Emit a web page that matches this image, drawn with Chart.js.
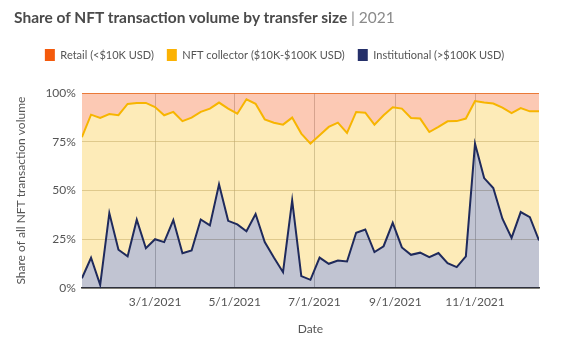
<!DOCTYPE html>
<html>
<head>
<meta charset="utf-8">
<script src="https://cdn.jsdelivr.net/npm/chart.js@4.4.1/dist/chart.umd.min.js"></script>
<style>
  html, body { margin: 0; padding: 0; background: #fff; }
  #wrap { position: relative; width: 564px; height: 346px; }
  #title { position: absolute; left: 14px; top: 8px; font-family: Lato, sans-serif; font-size: 15.5px; font-weight: bold; color: #4a4a4a; white-space: nowrap; }
  #title span { font-weight: normal; color: #8a8a8a; }
  canvas { position: absolute; left: 0; top: 0; }
</style>
</head>
<body>
<div id="wrap">
  <canvas id="chart" width="564" height="346"></canvas>
  <div id="title">Share of NFT transaction volume by transfer size <span>| 2021</span></div>
</div>
<script>
// weekly buckets (Monday start)
const weeks = [
  '2021-01-04','2021-01-11','2021-01-18','2021-01-25','2021-02-01','2021-02-08','2021-02-15','2021-02-22',
  '2021-03-01','2021-03-08','2021-03-15','2021-03-22','2021-03-29','2021-04-05','2021-04-12','2021-04-19',
  '2021-04-26','2021-05-03','2021-05-10','2021-05-17','2021-05-24','2021-05-31','2021-06-07','2021-06-14',
  '2021-06-21','2021-06-28','2021-07-05','2021-07-12','2021-07-19','2021-07-26','2021-08-02','2021-08-09',
  '2021-08-16','2021-08-23','2021-08-30','2021-09-06','2021-09-13','2021-09-20','2021-09-27','2021-10-04',
  '2021-10-11','2021-10-18','2021-10-25','2021-11-01','2021-11-08','2021-11-15','2021-11-22','2021-11-29',
  '2021-12-06','2021-12-13','2021-12-20'
];

// share of volume, % (institutional at bottom, retail on top)
const institutional = [
  5.1, 15.6, 1.7, 38.5, 19.7, 16.3, 35.1, 20.5, 25.1, 23.6, 34.9, 17.9, 19.3, 35.2, 32.2, 53.2, 34.5,
  32.7, 29.2, 38.0, 23.6, 15.7, 8.2, 45.0, 6.2, 4.3, 15.7, 12.5, 14.2, 13.7, 28.4, 30.1, 18.5, 21.5,
  33.5, 20.9, 17.1, 18.2, 15.9, 18.0, 12.8, 10.8, 16.3, 74.1, 56.4, 51.3, 35.6, 25.8, 39.0, 36.4, 24.5
];
const collector = [
  72.3, 73.3, 85.5, 50.7, 68.9, 78.1, 59.8, 74.4, 67.7, 65.0, 55.4, 67.7, 68.1, 55.1, 59.8, 41.9, 57.5,
  56.7, 67.6, 56.5, 62.9, 69.1, 75.6, 42.4, 73.0, 69.8, 62.6, 70.1, 70.6, 65.8, 61.9, 59.8, 65.3, 67.1,
  59.2, 71.1, 70.1, 68.7, 64.1, 64.6, 72.7, 74.8, 70.6, 21.8, 38.7, 43.3, 56.9, 63.9, 53.3, 54.2, 66.1
];
const retail = [
  22.6, 11.1, 12.8, 10.8, 11.4, 5.6, 5.1, 5.1, 7.2, 11.4, 9.7, 14.4, 12.6, 9.7, 8.0, 4.9, 8.0,
  10.6, 3.2, 5.5, 13.5, 15.2, 16.2, 12.6, 20.8, 25.9, 21.7, 17.4, 15.2, 20.5, 9.7, 10.1, 16.2, 11.4,
  7.3, 8.0, 12.8, 13.1, 20.0, 17.4, 14.5, 14.4, 13.1, 4.1, 4.9, 5.4, 7.5, 10.3, 7.7, 9.4, 9.4
];

const tickDates = ['2021-03-01','2021-05-01','2021-07-01','2021-09-01','2021-11-01'];
const yTicks = [0, 25, 50, 75, 100];

const DAY = 86400000;
const toDay = s => Date.parse(s + 'T00:00:00Z') / DAY;
const fmtDate = d => {
  const dt = new Date(d * DAY);
  return (dt.getUTCMonth() + 1) + '/' + dt.getUTCDate() + '/' + dt.getUTCFullYear();
};
const pts = arr => arr.map((v, i) => ({ x: toDay(weeks[i]), y: v }));

const font = "Lato, sans-serif";

// push the plot down a bit below the legend
const legendGap = {
  id: 'legendGap',
  beforeInit(chart) {
    const fit = chart.legend.fit;
    chart.legend.fit = function () {
      fit.bind(chart.legend)();
      this.height += 22;
    };
  }
};

new Chart(document.getElementById('chart'), {
  type: 'line',
  data: {
    datasets: [
      {
        label: 'Institutional (>$100K USD)',
        data: pts(institutional),
        borderColor: '#1f2a5c',
        backgroundColor: 'rgba(31, 42, 92, 0.28)',
        legendColor: '#25306a',
        borderWidth: 2,
        fill: 'origin'
      },
      {
        label: 'NFT collector ($10K-$100K USD)',
        data: pts(collector),
        borderColor: '#f7b500',
        backgroundColor: 'rgba(249, 190, 20, 0.3)',
        legendColor: '#fbb203',
        borderWidth: 2,
        fill: '-1'
      },
      {
        label: 'Retail (<$10K USD)',
        data: pts(retail),
        borderColor: '#ee6a1c',
        backgroundColor: 'rgba(245, 100, 40, 0.35)',
        legendColor: '#f45a0c',
        borderWidth: 1.5,
        fill: '-1'
      }
    ]
  },
  plugins: [legendGap],
  options: {
    responsive: false,
    animation: false,
    layout: { padding: { top: 36, right: 25, left: 10, bottom: 6 } },
    elements: { point: { radius: 0 }, line: { tension: 0 } },
    plugins: {
      tooltip: { enabled: false },
      legend: {
        position: 'top',
        reverse: true,
        labels: {
          font: { family: font, size: 11 },
          color: '#555',
          boxWidth: 10,
          boxHeight: 12,
          padding: 13,
          generateLabels: chart => chart.data.datasets.map((ds, i) => ({
            text: ds.label,
            fillStyle: ds.legendColor,
            strokeStyle: ds.legendColor,
            lineWidth: 0,
            datasetIndex: i,
            fontColor: '#555'
          }))
        }
      }
    },
    scales: {
      x: {
        type: 'linear',
        min: toDay(weeks[0]),
        max: toDay(weeks[weeks.length - 1]),
        afterBuildTicks: axis => { axis.ticks = tickDates.map(d => ({ value: toDay(d) })); },
        ticks: {
          callback: v => fmtDate(v),
          font: { family: font, size: 12 },
          color: '#555',
          maxRotation: 0,
          padding: 7
        },
        grid: { color: 'rgba(150,150,150,0.55)', drawTicks: false },
        border: { color: '#333', width: 1.5 },
        title: { display: true, text: 'Date', font: { family: font, size: 12 }, color: '#555', padding: { top: 5 } }
      },
      y: {
        stacked: true,
        min: 0,
        max: 100,
        afterBuildTicks: axis => { axis.ticks = yTicks.map(v => ({ value: v })); },
        ticks: {
          callback: v => v + '%',
          font: { family: font, size: 12 },
          color: '#555',
          padding: 6
        },
        grid: { color: 'rgba(170,160,130,0.5)', drawTicks: false },
        border: { display: false },
        title: { display: true, text: 'Share of all NFT transaction volume', font: { family: font, size: 12 }, color: '#555', padding: { bottom: 11 } }
      }
    }
  }
});
</script>
</body>
</html>
